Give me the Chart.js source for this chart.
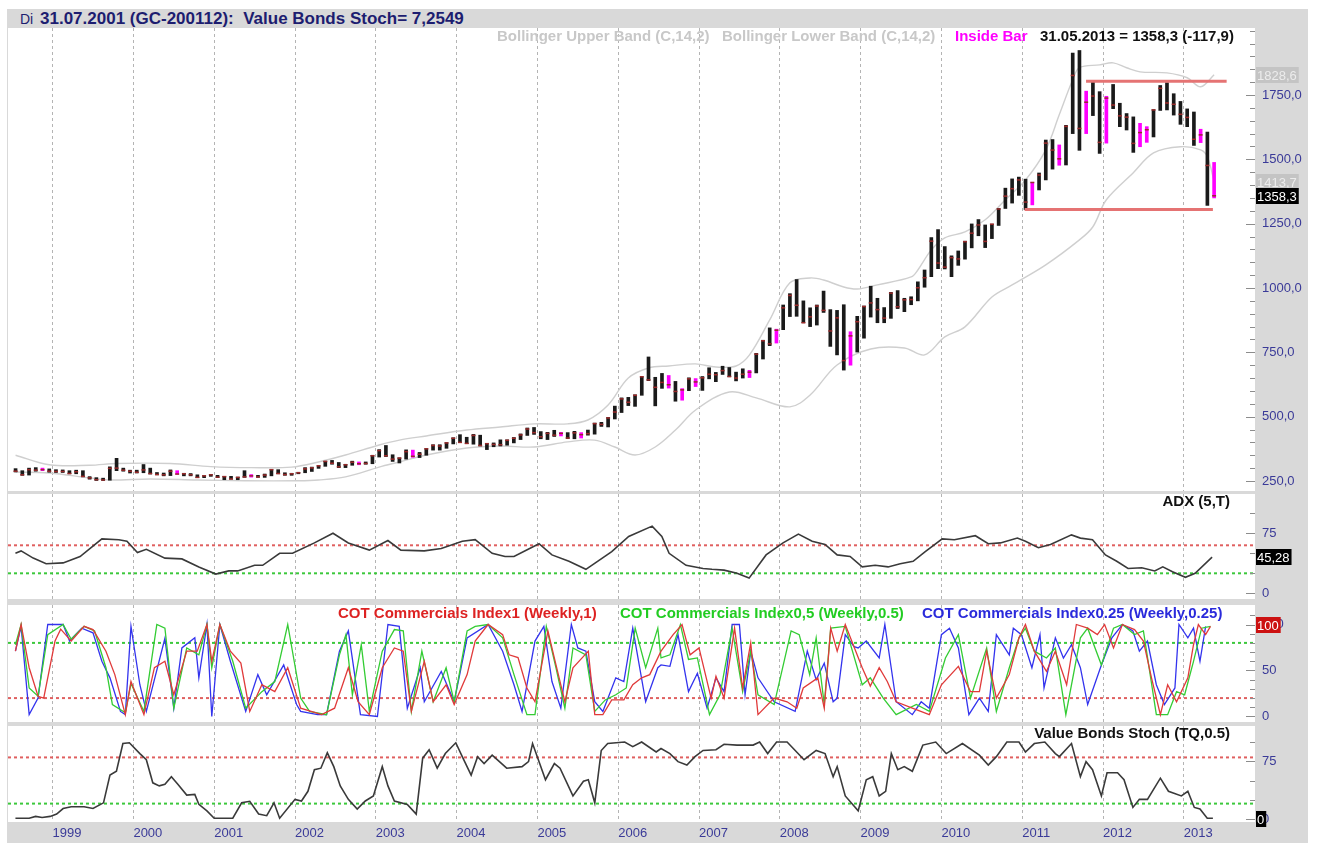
<!DOCTYPE html>
<html><head><meta charset="utf-8">
<script src="https://cdn.jsdelivr.net/npm/chart.js@4.4.0/dist/chart.umd.min.js"></script>
<style>
body{margin:0;background:#fff;width:1319px;height:843px;overflow:hidden;position:relative;font-family:"Liberation Sans",Arial,sans-serif;}
#frame{position:absolute;left:7px;top:9px;width:1301px;height:834px;background:#d9d9d9;}
canvas{position:absolute;left:8px;}
.t{position:absolute;white-space:nowrap;font-weight:bold;font-size:15px;line-height:16px;z-index:5;}
</style></head><body>
<div id="frame"></div>
<div class="t" style="left:20px;top:11px;color:#1d1d70;font-weight:normal;font-size:14px;">Di</div>
<div class="t" style="left:40px;top:10px;color:#1d1d70;font-size:17px;line-height:18px;">31.07.2001 (GC-200112):&nbsp; Value Bonds Stoch= 7,2549</div>
<canvas id="cPrice" width="1300" height="463" style="top:28px"></canvas>
<canvas id="cAdx" width="1300" height="105" style="top:494px"></canvas>
<canvas id="cCot" width="1300" height="117" style="top:605px"></canvas>
<canvas id="cSto" width="1300" height="117" style="top:726px"></canvas>
<div class="t" style="left:497px;top:28px;color:#c8c8c8;">Bollinger Upper Band (C,14,2)</div>
<div class="t" style="left:722px;top:28px;color:#c8c8c8;">Bollinger Lower Band (C,14,2)</div>
<div class="t" style="left:955px;top:28px;color:#ff00ff;">Inside Bar</div>
<div class="t" style="left:1040px;top:28px;color:#111;">31.05.2013 = 1358,3 (-117,9)</div>
<div class="t" style="right:89px;top:493px;color:#111;">ADX (5,T)</div>
<div class="t" style="left:338px;top:605px;color:#dd2222;">COT Commercials Index1 (Weekly,1)</div>
<div class="t" style="left:620px;top:605px;color:#22cc22;">COT Commercials Index0,5 (Weekly,0.5)</div>
<div class="t" style="left:922px;top:605px;color:#2a2adb;">COT Commercials Index0.25 (Weekly,0.25)</div>
<div class="t" style="right:89px;top:725px;color:#111;">Value Bonds Stoch (TQ,0.5)</div>
<script>
// ---------------- DATA ----------------
const firstYear = 1998, firstMonth = 7; // monthly bars Jul 1998 .. May 2013
const highs = [
 298,290,300,302,300,297,
 294,293,290,292,290,267,263,261,305,338,300,292,
 292,314,300,283,281,293,290,280,279,274,271,276,
 272,268,268,265,290,275,272,277,294,294,282,280,
 284,302,304,309,327,330,322,315,327,324,324,350,
 372,388,352,340,371,370,361,376,391,391,399,418,
 430,420,431,428,395,398,410,410,419,433,456,458,
 442,439,447,439,438,443,438,448,475,478,497,541,
 573,575,585,655,732,653,668,660,637,609,651,648,
 656,690,672,696,691,673,686,680,746,797,845,840,
 934,978,1033,950,923,934,988,916,913,935,830,890,
 930,1007,960,924,983,990,960,966,1024,1070,1196,1227,
 1161,1125,1144,1182,1249,1266,1245,1248,1309,1388,1424,1431,
 1423,1411,1447,1575,1577,1556,1632,1913,1923,1765,1802,1763,
 1745,1791,1718,1678,1665,1640,1627,1693,1787,1798,1755,1725,
 1696,1684,1617,1606,1488];
const lows = [
 285,272,273,288,290,284,
 283,283,278,278,266,257,252,252,253,290,288,281,
 281,282,277,274,270,271,276,270,270,263,263,268,
 263,255,257,255,264,265,264,264,270,278,272,272,
 278,282,287,299,307,315,302,302,311,313,315,317,
 343,345,326,320,335,342,341,350,370,370,377,394,
 399,395,393,386,372,383,386,389,398,411,427,431,
 414,411,423,425,415,414,417,428,432,462,460,491,
 516,543,540,583,640,542,610,611,560,564,601,617,
 602,647,636,664,655,639,650,652,670,724,776,786,
 838,889,890,865,850,856,905,773,740,681,700,751,
 805,887,865,865,882,920,908,935,950,1003,1044,1075,
 1074,1044,1088,1112,1156,1203,1157,1192,1243,1309,1330,1360,
 1305,1323,1381,1420,1462,1477,1478,1600,1535,1600,1670,1523,
 1563,1697,1627,1614,1527,1549,1566,1587,1690,1692,1672,1636,
 1627,1554,1565,1321,1350];
const closes = [
 288,274,294,292,294,288,
 287,287,279,286,268,262,255,254,299,300,292,288,
 284,293,279,275,274,288,277,278,274,264,270,274,
 265,267,258,264,266,270,266,273,294,279,275,278,
 282,297,301,309,326,319,305,313,323,317,318,348,
 368,348,335,339,364,346,354,375,388,386,398,416,
 400,396,427,388,395,392,391,408,416,429,452,438,
 422,435,428,435,417,437,430,434,473,470,495,518,
 569,556,583,655,643,614,633,624,598,604,647,635,
 651,665,663,679,656,650,665,673,743,795,783,836,
 923,971,933,865,888,930,913,833,884,718,814,869,
 928,942,916,883,980,927,954,955,1001,1040,1182,1097,
 1081,1118,1113,1180,1213,1245,1181,1248,1307,1357,1386,1420,
 1334,1410,1439,1563,1536,1502,1628,1826,1620,1722,1746,1566,
 1738,1711,1669,1664,1562,1604,1615,1692,1776,1719,1714,1675,
 1663,1578,1595,1476.2,1358.3];

const upperBandMonths = ['1998-07','1998-12','1999-06','1999-10','2000-06','2000-12','2001-06','2001-12','2002-04','2002-08','2003-01','2003-04','2003-08','2004-02','2004-07','2004-12','2005-05','2005-08','2005-11','2006-02','2006-05','2006-08','2006-12','2007-03','2007-06','2007-08','2007-11','2008-02','2008-05','2008-07','2008-10','2008-12','2009-03','2009-08','2009-09','2009-11','2010-01','2010-04','2010-07','2010-10','2011-01','2011-04','2011-06','2011-08','2011-09','2011-12','2012-02','2012-04','2012-06','2012-10','2013-01','2013-03','2013-05'];
const upperBandValues = [350,313,311,318,318,306,302,304,324,351,390,409,425,448,460,472,472,487,545,650,689,697,705,693,697,740,876,1020,1039,1031,1004,996,1012,1043,1070,1148,1195,1218,1265,1343,1420,1537,1673,1809,1856,1867,1875,1856,1840,1836,1817,1782,1828.6];
const lowerBandMonths = ['1998-07','1998-12','1999-06','1999-09','2000-03','2000-10','2001-05','2002-01','2002-04','2002-08','2003-01','2003-04','2003-08','2004-02','2004-07','2004-12','2005-05','2005-09','2005-12','2006-03','2006-06','2006-09','2006-12','2007-05','2007-09','2008-02','2008-05','2008-09','2009-02','2009-07','2009-10','2010-01','2010-04','2010-08','2010-11','2011-04','2011-09','2011-11','2012-01','2012-05','2012-08','2012-12','2013-03','2013-04','2013-05'];
const lowerBandValues = [285,281,262,254,258,254,251,251,254,266,304,324,351,378,386,382,402,409,382,351,382,448,526,596,573,538,584,701,763,767,740,810,849,965,1012,1090,1187,1238,1343,1448,1525,1549,1537,1510,1413.7];

const resistanceX = [2011.79, 2013.53], resistanceValue = 1803;
const supportX = [2011.03, 2013.36], supportValue = 1305;

const adxDates = [1998.54,1998.61,1998.76,1998.92,1999.13,1999.34,1999.61,1999.82,1999.92,2000.05,2000.16,2000.39,2000.60,2000.81,2001.02,2001.18,2001.29,2001.50,2001.60,2001.81,2001.97,2002.24,2002.47,2002.66,2002.92,2003.15,2003.31,2003.60,2003.81,2004.07,2004.23,2004.44,2004.60,2004.71,2005.02,2005.18,2005.39,2005.60,2005.92,2006.13,2006.42,2006.54,2006.63,2006.84,2007.05,2007.16,2007.31,2007.47,2007.62,2007.83,2008.04,2008.23,2008.40,2008.56,2008.71,2008.87,2009.02,2009.18,2009.34,2009.49,2009.65,2009.80,2010.01,2010.16,2010.42,2010.58,2010.73,2010.94,2011.04,2011.20,2011.35,2011.61,2011.72,2011.87,2012.03,2012.17,2012.31,2012.48,2012.64,2012.74,2012.86,2013.02,2013.14,2013.35];
const adxValues = [50,53,44,37,38,46,68,67,65,51,55,44,43,33,24,28,28,35,35,50,50,63,75,63,54,66,54,53,56,65,67,50,46,46,62,48,40,30,52,71,84,71,50,35,31,30,29,25,19,48,63,74,65,61,48,46,33,35,33,37,40,52,68,67,72,62,63,69,65,57,61,73,69,67,48,40,31,32,28,33,27,20,25,45.28];
const adxLevels = [60, 25];

const cot1Dates = [1998.54,1998.61,1998.71,1998.82,1998.89,1999.03,1999.10,1999.23,1999.39,1999.50,1999.66,1999.77,1999.90,1999.97,2000.13,2000.26,2000.39,2000.50,2000.66,2000.79,2000.91,2000.97,2001.07,2001.20,2001.33,2001.44,2001.59,2001.75,2001.91,2002.07,2002.33,2002.49,2002.66,2002.78,2002.92,2003.08,2003.23,2003.34,2003.44,2003.60,2003.71,2003.87,2003.97,2004.13,2004.23,2004.39,2004.57,2004.65,2004.76,2004.87,2004.97,2005.13,2005.23,2005.34,2005.44,2005.63,2005.71,2005.81,2005.92,2006.07,2006.18,2006.29,2006.39,2006.53,2006.68,2006.79,2006.89,2007.00,2007.15,2007.21,2007.31,2007.44,2007.54,2007.64,2007.73,2007.93,2008.09,2008.21,2008.29,2008.47,2008.55,2008.63,2008.71,2008.81,2009.02,2009.12,2009.23,2009.33,2009.44,2009.64,2009.85,2010.00,2010.21,2010.36,2010.47,2010.56,2010.68,2010.84,2010.96,2011.04,2011.15,2011.30,2011.41,2011.55,2011.67,2011.81,2011.93,2012.02,2012.13,2012.24,2012.39,2012.50,2012.60,2012.71,2012.80,2012.91,2013.05,2013.12,2013.18,2013.27,2013.33];
const cot1Values = [71,100,53,22,20,82,95,82,98,94.5,71,45.5,2,38,2,53,60,23.6,71,71,100,60,100,71,58,5.5,34.5,27,53,9,2,9,53,16,2,53,74.5,71,5.5,60,16,34.5,13,45.5,82,100,89,67,64,31,16,93,56,16,53,71,2,2,18,18,34.5,42,45.5,71,89,100,67,74.5,20,43.6,20,96,31,80,2,20,16,9,31,42,9,96,71,100,53,33,53,38,16,9,2,34.5,54.5,27,27,71,20,45.5,85.5,100,71,49,71,34.5,100,96,89,100,74.5,100,94.5,82,42,2,34.5,16,42,78,100,89,98];
const cot05Dates = [1998.54,1998.61,1998.71,1998.82,1998.94,1999.13,1999.23,1999.39,1999.52,1999.66,1999.74,1999.90,1999.97,2000.13,2000.29,2000.39,2000.50,2000.66,2000.81,2000.91,2000.97,2001.07,2001.23,2001.39,2001.59,2001.75,2001.91,2002.07,2002.18,2002.39,2002.55,2002.63,2002.71,2002.82,2002.92,2003.08,2003.23,2003.34,2003.44,2003.57,2003.71,2003.87,2003.97,2004.13,2004.23,2004.39,2004.57,2004.71,2004.87,2004.97,2005.11,2005.23,2005.34,2005.44,2005.60,2005.71,2005.84,2005.97,2006.10,2006.21,2006.34,2006.49,2006.53,2006.64,2006.77,2006.87,2006.98,2007.13,2007.26,2007.41,2007.54,2007.64,2007.73,2007.93,2008.14,2008.24,2008.37,2008.45,2008.55,2008.63,2008.81,2009.02,2009.12,2009.28,2009.44,2009.69,2009.85,2010.05,2010.21,2010.36,2010.56,2010.68,2010.84,2010.96,2011.04,2011.15,2011.30,2011.41,2011.54,2011.72,2011.81,2011.98,2012.13,2012.24,2012.39,2012.50,2012.66,2012.80,2012.91,2013.01,2013.12,2013.22,2013.33];
const cot05Values = [78,100,31,22,89,100,84,98,93,53,13,4,36,5.5,100,96,9,74.5,67,100,53,100,60,9,27,38,100,20,5.5,2,67,89,23.6,78,5.5,71,94.5,93,5.5,71,16,53,16,93,98,100,85.5,45.5,2,2,98,53,9,74.5,67,5.5,18,23.6,31,96,53,96,63.6,67,100,62,63.6,2,23.6,96,27,71,23.6,13,93,89,45.5,85.5,13,96,98,34.5,42,20,2,13,5.5,63.6,89,20,74.5,5.5,53,85.5,96,71,63.6,74.5,2,85.5,96,56,96,100,89,93,2,2,27,23.6,60,96,98];
const cot025Dates = [1998.54,1998.61,1998.71,1998.82,1998.94,1999.13,1999.21,1999.36,1999.50,1999.61,1999.71,1999.84,1999.90,1999.97,2000.08,2000.16,2000.39,2000.50,2000.60,2000.76,2000.81,2000.91,2000.97,2001.07,2001.20,2001.39,2001.54,2001.65,2001.86,2002.02,2002.07,2002.28,2002.39,2002.55,2002.66,2002.81,2003.02,2003.15,2003.29,2003.39,2003.55,2003.60,2003.81,2003.97,2004.13,2004.39,2004.57,2004.71,2004.81,2004.97,2005.08,2005.18,2005.29,2005.42,2005.50,2005.60,2005.71,2005.81,2005.97,2006.07,2006.18,2006.34,2006.49,2006.53,2006.64,2006.74,2006.87,2006.98,2007.10,2007.21,2007.31,2007.41,2007.50,2007.57,2007.64,2007.73,2007.93,2008.19,2008.34,2008.45,2008.55,2008.66,2008.71,2008.81,2008.92,2008.97,2009.07,2009.23,2009.30,2009.44,2009.64,2009.75,2009.85,2010.00,2010.10,2010.21,2010.34,2010.47,2010.58,2010.68,2010.84,2010.89,2010.99,2011.12,2011.22,2011.27,2011.41,2011.51,2011.61,2011.72,2011.81,2011.98,2012.11,2012.24,2012.37,2012.45,2012.55,2012.66,2012.76,2012.89,2012.94,2013.05,2013.12,2013.20,2013.27];
const cot025Values = [71,98,2,20,100,100,82,96,91,60,42,5.5,2,98,34.5,5.5,85,9,74.5,85.5,42,100,0,100,60,5.5,45.5,23.6,56,13,5.5,2,2,71,93,2,0,100,98,9,53,16,49,16,85.5,100,71,34.5,5.5,82,98,38,9,100,74.5,71,16,5.5,42,38,96,16,53,56,54.5,89,27,47,9,42,27,100,100,23.6,71,42,16,5.5,71,40,58,16,20,89,76,74.5,82,63.6,100,16,2,16,9,89,96,74.5,2,20,5.5,89,67,96,89,53,89,31,85.5,63.6,78,53,13,56,85.5,100,93,71,82,34.5,13,31,100,85.5,96,60,98];
const cotLevels = [80, 20];

const stochDates = [1998.54,1998.71,1998.79,1998.87,1998.97,1999.05,1999.13,1999.23,1999.39,1999.50,1999.63,1999.71,1999.79,1999.87,1999.95,2000.08,2000.16,2000.24,2000.32,2000.39,2000.47,2000.55,2000.66,2000.76,2000.81,2000.91,2001.00,2001.13,2001.23,2001.34,2001.44,2001.55,2001.65,2001.74,2001.81,2002.00,2002.08,2002.16,2002.24,2002.32,2002.40,2002.48,2002.56,2002.66,2002.77,2002.87,2002.97,2003.08,2003.15,2003.23,2003.39,2003.50,2003.58,2003.66,2003.76,2003.86,2003.99,2004.07,2004.18,2004.26,2004.34,2004.44,2004.62,2004.81,2004.89,2004.94,2005.10,2005.21,2005.28,2005.44,2005.57,2005.63,2005.71,2005.79,2005.87,2006.08,2006.18,2006.29,2006.47,2006.53,2006.64,2006.74,2006.85,2006.95,2007.05,2007.21,2007.31,2007.47,2007.67,2007.75,2007.85,2007.96,2008.09,2008.30,2008.45,2008.56,2008.66,2008.71,2008.81,2008.97,2009.07,2009.15,2009.23,2009.31,2009.38,2009.46,2009.54,2009.64,2009.77,2009.93,2010.06,2010.26,2010.47,2010.58,2010.68,2010.81,2010.96,2011.04,2011.15,2011.28,2011.41,2011.46,2011.61,2011.72,2011.79,2011.87,2011.98,2012.05,2012.18,2012.26,2012.37,2012.45,2012.55,2012.71,2012.81,2012.97,2013.05,2013.13,2013.20,2013.29,2013.36];
const stochValues = [1,1,3.4,2,3.4,6.4,13.6,16,16,13.6,21,57,62,98,99,85,77,47,43,45,55,45,31,32,19,10.6,1,1,1,21,23,6.4,4.3,21,1,25.5,23.4,36,64,66,86,68,43,25.5,12.8,23.4,30,68,43,23.4,19,6.4,79,90,66,85,99,81,57,81,72,83,66,68,74.5,98,51,72,66,30,49,51,21,89,98,100,94,100,87,91.5,85,74.5,70,81,89,90,97,96,96,100,85,100,100,77,89,85,55,68,30,10.6,51,55,30,36,85,64,68,62,96,100,85,98,83,70,81,100,100,87,98,100,85,81,98,55,74.5,64,30,60,60,51,15,25.5,25.5,53,36,30,36,15,13,1,1];
const stochLevels = [80, 20];

const yearLabels = [1999,2000,2001,2002,2003,2004,2005,2006,2007,2008,2009,2010,2011,2012,2013];
const priceTicks = [250,500,750,1000,1250,1500,1750];
const adxTicks = [0,75];
const cotTicks = [0,50,100];
const stochTicks = [0,75];

// ---------------- HELPERS ----------------
const FONT = '"Liberation Sans", Arial, sans-serif';
const XMIN = 1998.448, XMAX = 2013.881;
const barX = i => { const m = (firstMonth - 1) + i; return firstYear + Math.floor(m / 12) + ((m % 12) + 0.5) / 12; };
const ym = s => { const [y, m] = s.split('-').map(Number); return y + (m - 0.5) / 12; };
const zip = (xs, ys) => xs.map((x, i) => ({x, y: ys[i]}));
const hline = (v, color) => ({type:'line', data:[{x:XMIN,y:v},{x:XMAX,y:v}], borderColor:color, borderWidth:2, borderDash:[3,3], pointRadius:0, order:5});
const comma = (v, d) => v.toFixed(d).replace('.', ',');

const whiteArea = {id:'whiteArea', beforeDraw(c){ const a=c.chartArea, x=c.ctx; x.save(); x.fillStyle='#fff'; x.fillRect(a.left,a.top,a.right-a.left,a.bottom-a.top); x.restore(); }};
const sideTicks = {id:'sideTicks', afterDatasetsDraw(c, args, o){
  if (!o || !o.step) return;
  const y=c.scales.y, a=c.chartArea, ctx=c.ctx; ctx.save(); ctx.strokeStyle='#8c8c8c'; ctx.lineWidth=1;
  for (let v=o.from; v<=o.to+1e-9; v+=o.step){
    const p=Math.round(y.getPixelForValue(v))+0.5; if (p<a.top||p>a.bottom) continue;
    const major=o.major.some(m=>Math.abs(m-v)<1e-6); const len=major?9:5;
    ctx.beginPath(); ctx.moveTo(a.right-len,p); ctx.lineTo(a.right,p); ctx.stroke();
  }
  ctx.restore(); }};
const valueBoxes = {id:'valueBoxes', afterDraw(c, args, o){
  if (!o || !o.items) return;
  const ctx=c.ctx, y=c.scales.y, a=c.chartArea; ctx.save(); ctx.font='13px '+FONT; ctx.textBaseline='middle'; ctx.textAlign='left';
  o.items.forEach(it=>{ const p=Math.round(y.getPixelForValue(it.value)); const w=ctx.measureText(it.text).width+3;
    ctx.fillStyle=it.bg; ctx.fillRect(a.right+1,p-8,w,16); ctx.fillStyle=it.fg; ctx.fillText(it.text,a.right+2,p+1); });
  ctx.restore(); }};

function xScale(showLabels){
  return {type:'linear', min:XMIN, max:XMAX, offset:false,
    afterBuildTicks: s => { s.ticks = yearLabels.map(v=>({value:v})); },
    afterFit: s => { s.height = showLabels ? 21 : 0; s.paddingLeft=0; s.paddingRight=0; },
    grid:{color:'#b4b4b4', lineWidth:1, drawTicks:false, offset:false},
    border:{display:false, dash:[3,3]},
    ticks:{display:showLabels, align:'start', padding:4, maxRotation:0, autoSkip:false, color:'#3a3a98', font:{family:FONT,size:13}, callback:v=>String(v)}};
}
function yScale(min, max, ticks, fmt){
  return {position:'right', min, max,
    afterBuildTicks: s => { s.ticks = ticks.map(v=>({value:v})); },
    afterFit: s => { s.width = 53; s.paddingTop=0; s.paddingBottom=0; },
    grid:{display:false, drawTicks:false}, border:{display:false},
    ticks:{padding:7, color:'#3a3a98', font:{family:FONT,size:13}, callback: fmt}};
}
function makeChart(id, datasets, ymin, ymax, ticks, fmt, showX, pluginOpts){
  return new Chart(document.getElementById(id), {
    type:'bar', data:{datasets},
    options:{responsive:false, animation:false, events:[],
      layout:{padding:0, autoPadding:false},
      scales:{x:xScale(showX), y:yScale(ymin, ymax, ticks, fmt)},
      plugins:Object.assign({legend:{display:false}, tooltip:{enabled:false}}, pluginOpts)},
    plugins:[whiteArea, sideTicks, valueBoxes]});
}

// ---------------- PRICE ----------------
const inside = highs.map((h,i)=> i>0 && h<highs[i-1] && lows[i]>lows[i-1]);
const priceSets = [
  {type:'line', data:closes.map((c,i)=>({x:barX(i), y:c})), showLine:false, pointStyle:'line', pointRadius:2, pointBorderWidth:1.5, borderColor:'#9a2a2a', pointBorderColor:'#9a2a2a'},
  {type:'line', data:resistanceX.map(x=>({x, y:resistanceValue})), borderColor:'#e57373', borderWidth:3, pointRadius:0},
  {type:'line', data:supportX.map(x=>({x, y:supportValue})), borderColor:'#e57373', borderWidth:3, pointRadius:0},
  {type:'bar', data:highs.map((h,i)=>({x:barX(i), y:[lows[i], h]})), backgroundColor:inside.map(f=>f?'#ff00ff':'#1a1a1a'), barThickness:3, borderWidth:0, grouped:false},
  {type:'line', data:upperBandMonths.map((m,i)=>({x:ym(m), y:upperBandValues[i]})), borderColor:'#cfcfcf', borderWidth:1.4, pointRadius:0, tension:0.35},
  {type:'line', data:lowerBandMonths.map((m,i)=>({x:ym(m), y:lowerBandValues[i]})), borderColor:'#cfcfcf', borderWidth:1.4, pointRadius:0, tension:0.35}
];
makeChart('cPrice', priceSets, 211.1, 2010.4, priceTicks, v=>comma(v,1), false,
  {sideTicks:{from:250,to:2000,step:50,major:priceTicks},
   valueBoxes:{items:[
     {value:upperBandValues[upperBandValues.length-1], text:comma(upperBandValues[upperBandValues.length-1],1), bg:'#c4c4c4', fg:'#ececec'},
     {value:lowerBandValues[lowerBandValues.length-1], text:comma(lowerBandValues[lowerBandValues.length-1],1), bg:'#c4c4c4', fg:'#ececec'},
     {value:closes[closes.length-1], text:comma(closes[closes.length-1],1), bg:'#000', fg:'#fff'}]}});

// ---------------- ADX ----------------
makeChart('cAdx', [
  {type:'line', data:zip(adxDates, adxValues), borderColor:'#3a3a3a', borderWidth:1.6, pointRadius:0, tension:0},
  hline(adxLevels[0], '#e06060'), hline(adxLevels[1], '#3cc83c')
], -7.1, 124.1, adxTicks, v=>String(v), false,
  {sideTicks:{from:0,to:100,step:25,major:adxTicks},
   valueBoxes:{items:[{value:adxValues[adxValues.length-1], text:comma(adxValues[adxValues.length-1],2), bg:'#000', fg:'#fff'}]}});

// ---------------- COT ----------------
makeChart('cCot', [
  {type:'line', data:zip(cot1Dates, cot1Values), borderColor:'#e03a3a', borderWidth:1.3, pointRadius:0},
  {type:'line', data:zip(cot05Dates, cot05Values), borderColor:'#33cc33', borderWidth:1.3, pointRadius:0},
  {type:'line', data:zip(cot025Dates, cot025Values), borderColor:'#3333ee', borderWidth:1.3, pointRadius:0},
  hline(cotLevels[0], '#3cc83c'), hline(cotLevels[1], '#e06060')
], -6.0, 121.2, cotTicks, v=>String(v), false,
  {sideTicks:{from:0,to:110,step:10,major:cotTicks},
   valueBoxes:{items:[{value:100, text:'100', bg:'#cc1111', fg:'#fff'}]}});

// ---------------- STOCH ----------------
makeChart('cSto', [
  {type:'line', data:zip(stochDates, stochValues), borderColor:'#3a3a3a', borderWidth:1.6, pointRadius:0},
  hline(stochLevels[0], '#e06060'), hline(stochLevels[1], '#3cc83c')
], -3.9, 120.8, stochTicks, v=>String(v), true,
  {sideTicks:{from:0,to:100,step:25,major:stochTicks},
   valueBoxes:{items:[{value:0, text:'0', bg:'#000', fg:'#fff'}]}});
</script>
</body></html>
